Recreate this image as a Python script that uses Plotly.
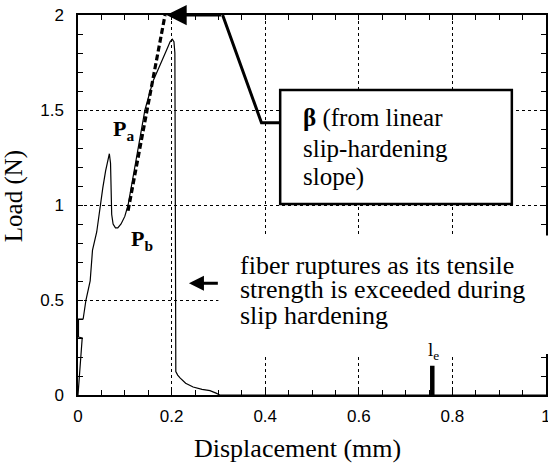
import plotly.graph_objects as go

# ---- data ----
disp = [0, 0.003, 0.006, 0.009, 0.001, 0.001, 0.011, 0.017, 0.026, 0.031, 0.040, 0.047,
        0.053, 0.059, 0.064, 0.067, 0.0695, 0.071, 0.072, 0.075, 0.080, 0.085, 0.092,
        0.100, 0.107, 0.125, 0.143, 0.160, 0.175, 0.190, 0.197, 0.2015, 0.205, 0.207,
        0.208, 0.209, 0.213, 0.218, 0.230, 0.246, 0.265, 0.282, 0.295, 0.303, 0.6, 1.0]
load = [0, 0.10, 0.20, 0.30, 0.305, 0.40, 0.40, 0.50, 0.60, 0.763, 0.858, 0.99,
        1.09, 1.18, 1.25, 1.27, 1.22, 1.10, 0.95, 0.90, 0.88, 0.88, 0.90,
        0.94, 1.00, 1.25, 1.50, 1.65, 1.74, 1.82, 1.86, 1.872, 1.86, 1.80,
        1.00, 0.123, 0.105, 0.09, 0.062, 0.042, 0.03, 0.023, 0.01, 0.0, 0.0, 0.0]

slope_x = [0.107, 0.186]
slope_y = [0.97, 2.0]

leader_x = [0.309, 0.392, 0.432]
leader_y = [2.0, 1.433, 1.433]

le_x = [0.757, 0.757]
le_y = [0.0, 0.154]

x_ticks = [0, 0.2, 0.4, 0.6, 0.8, 1]
x_ticklabels = ["0", "0.2", "0.4", "0.6", "0.8", "1"]
y_ticks = [0, 0.5, 1, 1.5, 2]
y_ticklabels = ["0", "0.5", "1", "1.5", "2"]

box_lines = ["<b>β</b> (from linear", "slip-hardening", "slope)"]
fiber_lines = ["fiber ruptures as its tensile", "strength is exceeded during", "slip hardening"]

SERIF = "Liberation Serif, Times New Roman, serif"
SANS = "Liberation Sans, Arial, Helvetica, sans-serif"

fig = go.Figure()
fig.add_trace(go.Scatter(x=disp, y=load, mode="lines",
                         line=dict(color="black", width=1.2), showlegend=False))
fig.add_trace(go.Scatter(x=slope_x, y=slope_y, mode="lines",
                         line=dict(color="black", width=3.2, dash="6px,3px"), showlegend=False))
fig.add_trace(go.Scatter(x=leader_x, y=leader_y, mode="lines",
                         line=dict(color="black", width=3), showlegend=False))
fig.add_trace(go.Scatter(x=le_x, y=le_y, mode="lines",
                         line=dict(color="black", width=4.5), showlegend=False))

axis_common = dict(
    showline=True, linecolor="black", linewidth=1.5, mirror="ticks",
    ticks="inside", ticklen=5, tickcolor="black", tickwidth=1,
    showgrid=True, gridcolor="black", gridwidth=1, griddash="dot",
    zeroline=False, automargin=False, ticklabeloverflow="allow",
    tickfont=dict(family=SANS, size=17, color="black"),
)

fig.update_xaxes(range=[0, 1], tickvals=x_ticks, ticktext=x_ticklabels,
                 minor=dict(dtick=0.05, ticks="inside", ticklen=5, tickcolor="black", showgrid=False),
                 ticklabelstandoff=5, **axis_common)
fig.update_yaxes(range=[0, 2], tickvals=y_ticks, ticktext=y_ticklabels,
                 minor=dict(dtick=0.1, ticks="inside", ticklen=5, tickcolor="black", showgrid=False),
                 ticklabelstandoff=9, **axis_common)

shapes = [
    # white mask behind the rupture note
    dict(type="rect", xref="paper", yref="y", x0=0.3, x1=1.01, y0=0.216, y1=0.84,
         fillcolor="white", line=dict(width=0), layer="above"),
    # beta box
    dict(type="rect", xref="x", yref="y", x0=0.432, x1=0.927, y0=1.005, y1=1.605,
         fillcolor="white", line=dict(color="black", width=2.5), layer="above"),
]

annotations = [
    dict(x=0.189, y=2.0, ax=0.309, ay=2.0, axref="x", ayref="y", xref="x", yref="y",
         text="", showarrow=True, arrowhead=2, arrowwidth=3, arrowsize=1.35,
         arrowcolor="black", standoff=0),
    dict(x=0.237, y=0.588, ax=0.302, ay=0.588, axref="x", ayref="y", xref="x", yref="y",
         text="", showarrow=True, arrowhead=2, arrowwidth=3, arrowsize=1.0,
         arrowcolor="black", standoff=0),
    dict(x=0.070, y=1.395, xref="x", yref="y", xanchor="left", yanchor="middle",
         text="<b>P<sub>a</sub></b>", showarrow=False,
         font=dict(family=SERIF, size=22, color="black")),
    dict(x=0.109, y=0.816, xref="x", yref="y", xanchor="left", yanchor="middle",
         text="<b>P<sub>b</sub></b>", showarrow=False,
         font=dict(family=SERIF, size=22, color="black")),
    dict(x=0.744, y=0.23, xref="x", yref="y", xanchor="left", yanchor="middle",
         text="l<sub>e</sub>", showarrow=False,
         font=dict(family=SERIF, size=19, color="black")),
    dict(x=0.469, y=-0.142, xref="paper", yref="paper", xanchor="center", yanchor="middle",
         text="Displacement (mm)", showarrow=False,
         font=dict(family=SERIF, size=26, color="black")),
    dict(x=-0.136, y=0.524, xref="paper", yref="paper", xanchor="center", yanchor="middle",
         text="Load (N)", textangle=-90, showarrow=False,
         font=dict(family=SERIF, size=25, color="black")),
]

box_y = [1.458, 1.30, 1.147]
for txt, yy in zip(box_lines, box_y):
    annotations.append(dict(x=0.476, y=yy, xref="x", yref="y", xanchor="left", yanchor="middle",
                            text=txt, showarrow=False,
                            font=dict(family=SERIF, size=25, color="black")))

fiber_y = [0.684, 0.553, 0.42]
for txt, yy in zip(fiber_lines, fiber_y):
    annotations.append(dict(x=0.342, y=yy, xref="x", yref="y", xanchor="left", yanchor="middle",
                            text=txt, showarrow=False,
                            font=dict(family=SERIF, size=26, color="black")))

fig.update_layout(
    width=548, height=464,
    margin=dict(l=78, r=2, t=15, b=69, autoexpand=False),
    paper_bgcolor="white", plot_bgcolor="white",
    shapes=shapes, annotations=annotations, showlegend=False,
)

# remove the default page margin so the 548x464 figure fills the window exactly
page_fix = ("document.body.style.margin='0';"
            "document.body.style.overflow='hidden';"
            "document.documentElement.style.overflow='hidden';")
fig.write_html("out.html", post_script=page_fix, config={"displayModeBar": False})
